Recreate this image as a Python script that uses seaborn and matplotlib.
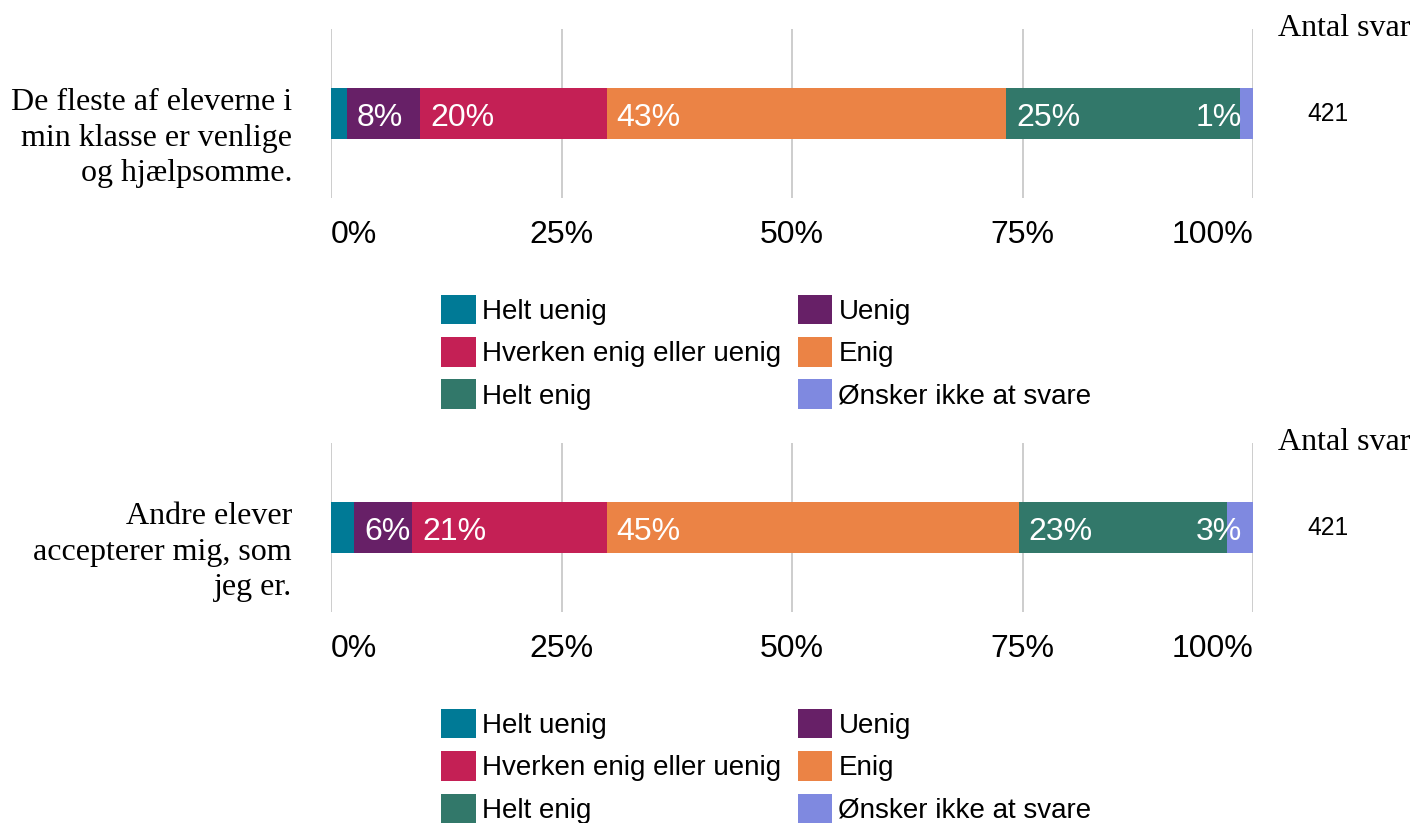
import matplotlib
matplotlib.use("Agg")
import matplotlib.pyplot as plt
import seaborn as sns
import numpy as np
import pandas as pd
from matplotlib.patches import Patch
from matplotlib.transforms import ScaledTranslation

# ---- data ----
categories = ["Helt uenig", "Uenig", "Hverken enig eller uenig", "Enig",
              "Helt enig", "Ønsker ikke at svare"]
questions = ["De fleste af eleverne i\nmin klasse er venlige\nog hjælpsomme.",
             "Andre elever\naccepterer mig, som\njeg er."]
values_q1 = [1.7, 8.0, 20.2, 43.3, 25.4, 1.4]
values_q2 = [2.5, 6.3, 21.1, 44.7, 22.6, 2.8]
antal_svar = [421, 421]
tick_values = [0, 25, 50, 75, 100]
tick_labels = ["0%", "25%", "50%", "75%", "100%"]
colors = ["#007A96", "#672067", "#C42055", "#EB8345", "#32786A", "#7F89E0"]

sns.set_theme(style="white")
plt.rcParams["font.family"] = ["Liberation Sans", "DejaVu Sans"]
plt.rcParams["text.color"] = "black"
plt.rcParams["xtick.color"] = "black"
plt.rcParams["ytick.color"] = "black"

W, H = 1415, 823
fig = plt.figure(figsize=(W / 100, H / 100), dpi=100)


def fx(px):
    return px / W


def fy(py):
    return 1 - py / H


all_values = [values_q1, values_q2]
for i, (q, vals) in enumerate(zip(questions, all_values)):
    off = 414 * i
    ax = fig.add_axes([fx(331), fy(198 + off), 922 / W, 169 / H])
    vals = np.array(vals, dtype=float)
    cum = np.cumsum(vals)
    for j in reversed(range(len(categories))):
        df = pd.DataFrame({"q": [q], "cum": [cum[j]]})
        sns.barplot(data=df, x="cum", y="q", orient="h", color=colors[j],
                    saturation=1, width=0.296, errorbar=None, ax=ax,
                    linewidth=0, edgecolor="none")
    ax.set_xlim(0, 100)
    ax.set_ylim(0.5, -0.5)
    ax.set_xlabel("")
    ax.set_ylabel("")
    for s in ax.spines.values():
        s.set_visible(False)
    ax.set_xticks(tick_values)
    ax.set_xticklabels(tick_labels, fontsize=23, color="black")
    ax.grid(axis="x", color="#C9C9C9", lw=1.3)
    ax.grid(axis="y", visible=False)
    ax.set_axisbelow(True)
    ax.tick_params(axis="x", length=0, pad=16)
    ax.tick_params(axis="y", length=0, pad=28)
    xl = ax.get_xticklabels()
    xl[0].set_ha("left")
    xl[-1].set_ha("right")
    ax.set_yticks([0])
    ax.set_yticklabels([q], fontsize=23, family="Liberation Serif",
                       color="black", linespacing=1.28)
    for lab in ax.get_yticklabels():
        lab.set_multialignment("right")
        lab.set_transform(lab.get_transform() +
                          ScaledTranslation(0, -18 / 100, fig.dpi_scale_trans))

    left = cum - vals
    for j in range(1, len(categories)):
        txt = f"{int(round(vals[j]))}%"
        if j == len(categories) - 1:
            ax.annotate(txt, xy=(100, 0), xytext=(-8, -3.5), textcoords="offset points",
                        ha="right", va="center", color="white", fontsize=23)
        else:
            ax.annotate(txt, xy=(left[j], 0), xytext=(7.2, -3.5), textcoords="offset points",
                        ha="left", va="center", color="white", fontsize=23)

    order = [0, 2, 4, 1, 3, 5]
    handles = [Patch(facecolor=colors[k], edgecolor="none") for k in order]
    labels = [categories[k] for k in order]
    fig.legend(handles, labels, ncol=2, loc="upper left",
               bbox_to_anchor=(fx(441), fy(295 + off)), frameon=False,
               fontsize=20, handlelength=1.25, handleheight=1.25,
               handletextpad=0.22, columnspacing=0.6, labelspacing=0.44,
               borderpad=0, borderaxespad=0, labelcolor="black")

    fig.text(fx(1278), fy(36 + off), "Antal svar", family="Liberation Serif",
             fontsize=23, va="baseline", ha="left", color="black")
    fig.text(fx(1328.5), fy(121 + off), str(antal_svar[i]), fontsize=17.7,
             va="baseline", ha="center", color="black")

fig.savefig("out.png", dpi=100)
